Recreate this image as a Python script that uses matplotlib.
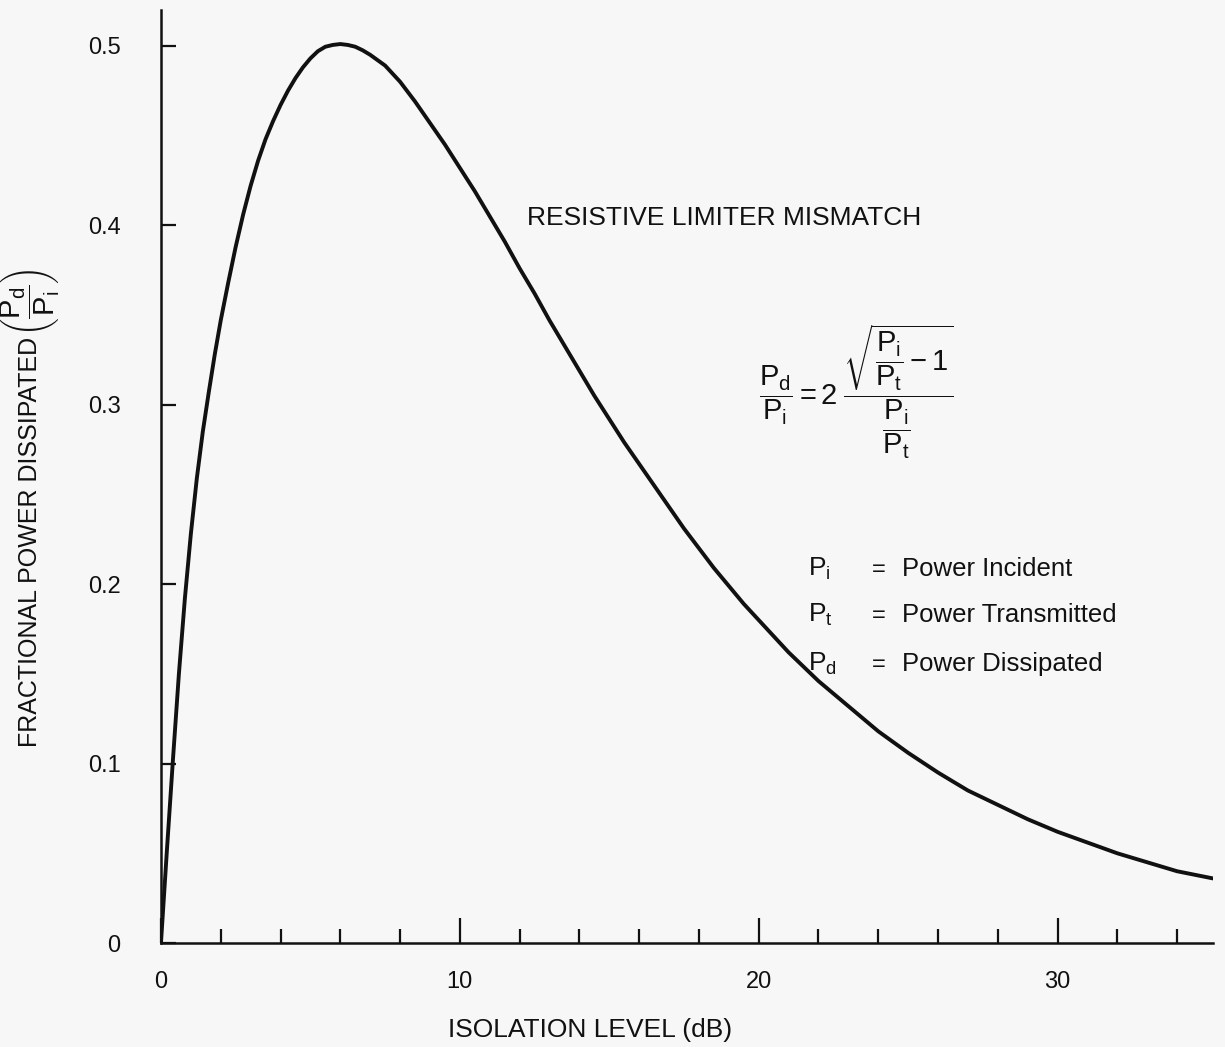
import matplotlib
matplotlib.use("Agg")
import matplotlib.pyplot as plt
from matplotlib.ticker import FixedLocator

# values
iso_db = [0, 0.2, 0.4, 0.6, 0.8, 1.0, 1.2, 1.4, 1.6, 1.8, 2.0, 2.25, 2.5, 2.75,
          3.0, 3.25, 3.5, 3.75, 4.0, 4.25, 4.5, 4.75, 5.0, 5.25, 5.5, 5.75, 6.0,
          6.25, 6.5, 6.75, 7.0, 7.5, 8.0, 8.5, 9.0, 9.5, 10, 10.5, 11, 11.5, 12,
          12.5, 13, 13.5, 14, 14.5, 15, 15.5, 16, 16.5, 17, 17.5, 18, 18.5, 19,
          19.5, 20, 21, 22, 23, 24, 25, 26, 27, 28, 29, 30, 31, 32, 33, 34, 35.2]
frac_dissipated = [0.0, 0.052, 0.102, 0.150, 0.192, 0.228, 0.259, 0.285, 0.307,
                   0.328, 0.347, 0.368, 0.388, 0.406, 0.422, 0.436, 0.448, 0.458,
                   0.467, 0.475, 0.482, 0.488, 0.493, 0.497, 0.4995, 0.5005,
                   0.501, 0.5005, 0.4995, 0.4975, 0.495, 0.489, 0.480, 0.469,
                   0.457, 0.445, 0.432, 0.419, 0.405, 0.391, 0.376, 0.362, 0.347,
                   0.333, 0.319, 0.305, 0.292, 0.279, 0.267, 0.255, 0.243, 0.231,
                   0.220, 0.209, 0.199, 0.189, 0.180, 0.162, 0.146, 0.132, 0.118,
                   0.106, 0.095, 0.085, 0.077, 0.069, 0.062, 0.056, 0.050, 0.045,
                   0.040, 0.036]

x_major = [0, 10, 20, 30]
x_minor = [2, 4, 6, 8, 12, 14, 16, 18, 22, 24, 26, 28, 32, 34]
y_ticks = [0, 0.1, 0.2, 0.3, 0.4, 0.5]
y_tick_labels = ["0", "0.1", "0.2", "0.3", "0.4", "0.5"]

legend_syms = ["$P_i$", "$P_t$", "$P_d$"]
legend_text = ["Power Incident", "Power Transmitted", "Power Dissipated"]

plt.rcParams["font.family"] = ["Liberation Sans", "DejaVu Sans"]
plt.rcParams["mathtext.fontset"] = "custom"
plt.rcParams["mathtext.rm"] = "Liberation Sans"
plt.rcParams["mathtext.it"] = "Liberation Sans"
plt.rcParams["mathtext.sf"] = "Liberation Sans"

ink = "#111111"
paper = "#f7f7f7"

fig = plt.figure(figsize=(12.25, 10.47), dpi=100, facecolor=paper)
ax = fig.add_axes([0.1314, 0.0993, 0.8588, 0.8912])
ax.set_facecolor(paper)

ax.plot(iso_db, frac_dissipated, color=ink, lw=2.8, solid_joinstyle="round",
        solid_capstyle="round")

ax.set_xlim(0, 35.2)
ax.set_ylim(0, 0.52)

for side in ["top", "right"]:
    ax.spines[side].set_visible(False)
for side in ["left", "bottom"]:
    ax.spines[side].set_linewidth(1.8)
    ax.spines[side].set_color(ink)

ax.xaxis.set_major_locator(FixedLocator(x_major))
ax.xaxis.set_minor_locator(FixedLocator(x_minor))
ax.set_xticklabels([str(v) for v in x_major])
ax.tick_params(axis="x", which="major", direction="in", length=18, width=1.6,
               color=ink, pad=20, labelsize=17, labelcolor=ink)
ax.tick_params(axis="x", which="minor", direction="in", length=10, width=1.6,
               color=ink)

ax.set_yticks(y_ticks)
ax.set_yticklabels(y_tick_labels)
ax.tick_params(axis="y", direction="in", length=11, width=1.6, color=ink,
               pad=29, labelsize=17, labelcolor=ink)

# axis titles
fig.text(0.482, 0.0162, "ISOLATION LEVEL (dB)", ha="center", va="center",
         fontsize=19, color=ink)
fig.text(0.0245, 0.482, "FRACTIONAL POWER DISSIPATED",
         rotation=90, ha="center", va="center", fontsize=18, color=ink)
fig.text(0.025, 0.679, r"$\left(\dfrac{P_d}{P_i}\right)$",
         rotation=90, ha="center", va="bottom", fontsize=21, color=ink)

# annotations
fig.text(0.430, 0.792, "RESISTIVE LIMITER MISMATCH", ha="left", va="center",
         fontsize=19, color=ink)
fig.text(0.699, 0.626,
         r"$\dfrac{P_d}{P_i} = 2\;\dfrac{\sqrt{\dfrac{P_i}{P_t} - 1}}{\dfrac{P_i}{P_t}}$",
         ha="center", va="center", fontsize=21, color=ink)

row_base = [576, 622, 671]
for sym, txt, yb in zip(legend_syms, legend_text, row_base):
    yf = 1 - yb / 1047
    fig.text(808 / 1225, yf, sym, ha="left", va="baseline", fontsize=19, color=ink)
    fig.text(872 / 1225, yf, "=", ha="left", va="baseline", fontsize=17, color=ink)
    fig.text(902 / 1225, yf, txt, ha="left", va="baseline", fontsize=18.5, color=ink)

fig.savefig("out.png", dpi=100, facecolor=paper)
